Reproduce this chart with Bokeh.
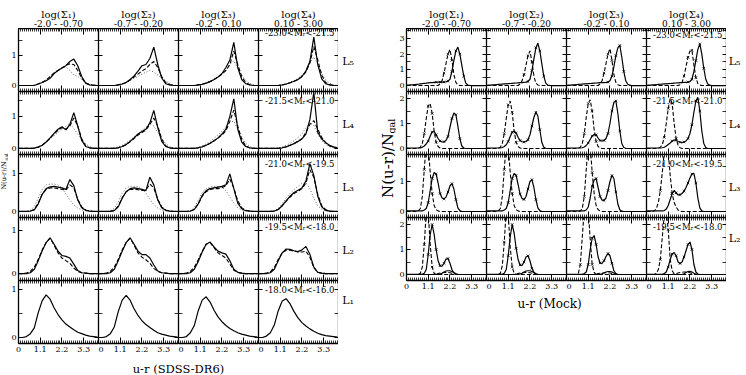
from math import pi

from bokeh.embed import file_html
from bokeh.layouts import column, gridplot, row
from bokeh.models import FixedTicker, Label, LinearAxis, Range1d
from bokeh.plotting import figure
from bokeh.resources import INLINE

FONT = "DejaVu Serif"
FRAME_W, FRAME_H = 80, 63

# u-r colour sampling positions
U_SDSS = [0.0, 0.2, 0.4, 0.6, 0.8, 1.0, 1.2, 1.4, 1.6, 1.8, 2.0,
          2.2, 2.4, 2.6, 2.8, 3.0, 3.2, 3.4, 3.6, 3.8, 4.0]
U_MOCK = [0.0, 0.1, 0.2, 0.3, 0.4, 0.5, 0.6, 0.7, 0.8, 0.9,
          1.0, 1.1, 1.2, 1.3, 1.4, 1.5, 1.6, 1.7, 1.8, 1.9,
          2.0, 2.1, 2.2, 2.3, 2.4, 2.5, 2.6, 2.7, 2.8, 2.9,
          3.0, 3.1, 3.2, 3.3, 3.4, 3.5, 3.6, 3.7, 3.8, 3.9, 4.0]

SIGMA_NAMES = ["log(Σ₁)", "log(Σ₂)", "log(Σ₃)", "log(Σ₄)"]
SIGMA_BINS = ["-2.0 - -0.70", "-0.7 - -0.20", "-0.2 - 0.10", "0.10 - 3.00"]
LUM_NAMES = ["L₅", "L₄", "L₃", "L₂", "L₁"]
MAG_BINS = ["-23.0<Mᵣ<-21.5", "-21.5<Mᵣ<-21.0", "-21.0<Mᵣ<-19.5",
            "-19.5<Mᵣ<-18.0", "-18.0<Mᵣ<-16.0"]
X_TICKS = [0, 1.1, 2.2, 3.3]
X_TICK_LABELS = ["0", "1.1", "2.2", "3.3"]

# ---- SDSS-DR6 distributions, one list per density bin (columns) ----
sdss_solid_L5 = [
    [0, 0, 0, 0, 0, 0.05, 0.1, 0.16, 0.24, 0.4, 0.5, 0.58, 0.66, 0.8, 0.88, 0.66, 0.3, 0.08, 0.02, 0.01, 0],
    [0, 0, 0, 0, 0, 0.02, 0.05, 0.1, 0.2, 0.32, 0.48, 0.66, 0.7, 0.9, 1.28, 0.7, 0.25, 0.06, 0.02, 0, 0],
    [0, 0, 0, 0, 0, 0.02, 0.04, 0.08, 0.13, 0.2, 0.28, 0.4, 0.6, 0.85, 1.44, 0.6, 0.2, 0.06, 0.02, 0, 0],
    [0, 0, 0, 0, 0, 0, 0.02, 0.05, 0.09, 0.14, 0.2, 0.3, 0.48, 0.8, 1.61, 0.7, 0.22, 0.06, 0.02, 0, 0],
]
sdss_dash_L5 = [
    [0, 0, 0, 0, 0, 0.05, 0.1, 0.18, 0.3, 0.42, 0.5, 0.58, 0.68, 0.72, 0.7, 0.5, 0.25, 0.08, 0.02, 0, 0],
    [0, 0, 0, 0, 0, 0.02, 0.05, 0.1, 0.18, 0.28, 0.38, 0.48, 0.56, 0.7, 0.8, 0.6, 0.3, 0.1, 0.03, 0, 0],
    [0, 0, 0, 0, 0, 0.02, 0.04, 0.08, 0.13, 0.2, 0.28, 0.38, 0.5, 0.7, 1.15, 0.7, 0.3, 0.1, 0.03, 0, 0],
    [0, 0, 0, 0, 0, 0, 0.02, 0.05, 0.09, 0.14, 0.2, 0.3, 0.45, 0.75, 1.3, 0.85, 0.35, 0.1, 0.03, 0, 0],
]
sdss_dot_L5 = [
    [0, 0, 0, 0, 0.02, 0.06, 0.12, 0.2, 0.3, 0.42, 0.52, 0.6, 0.62, 0.5, 0.35, 0.3, 0.2, 0.1, 0.04, 0.01, 0],
    [0, 0, 0, 0, 0, 0.03, 0.06, 0.1, 0.16, 0.24, 0.3, 0.38, 0.44, 0.5, 0.45, 0.35, 0.25, 0.15, 0.07, 0.02, 0],
    [0, 0, 0, 0, 0, 0.02, 0.04, 0.08, 0.13, 0.2, 0.28, 0.38, 0.5, 0.7, 0.83, 0.55, 0.35, 0.18, 0.07, 0.02, 0],
    [0, 0, 0, 0, 0, 0, 0.02, 0.05, 0.1, 0.16, 0.24, 0.34, 0.5, 0.75, 0.95, 0.7, 0.4, 0.2, 0.08, 0.02, 0],
]
sdss_solid_L4 = [
    [0, 0, 0, 0, 0.01, 0.04, 0.1, 0.2, 0.33, 0.47, 0.6, 0.68, 0.58, 0.75, 1.12, 0.7, 0.25, 0.06, 0.02, 0, 0],
    [0, 0, 0, 0, 0, 0.02, 0.06, 0.12, 0.22, 0.33, 0.45, 0.53, 0.6, 0.8, 1.19, 0.65, 0.22, 0.06, 0.02, 0, 0],
    [0, 0, 0, 0, 0, 0.02, 0.05, 0.1, 0.16, 0.24, 0.33, 0.45, 0.6, 1.0, 1.55, 0.6, 0.2, 0.06, 0.02, 0, 0],
    [0, 0, 0, 0, 0, 0, 0.02, 0.05, 0.1, 0.15, 0.22, 0.3, 0.45, 0.9, 1.75, 0.5, 0.3, 0.18, 0.1, 0.05, 0.02],
]
sdss_dash_L4 = [
    [0, 0, 0, 0, 0.01, 0.04, 0.1, 0.2, 0.32, 0.45, 0.57, 0.65, 0.6, 0.7, 0.95, 0.7, 0.3, 0.08, 0.02, 0, 0],
    [0, 0, 0, 0, 0, 0.02, 0.06, 0.12, 0.21, 0.31, 0.42, 0.5, 0.58, 0.75, 0.95, 0.7, 0.3, 0.08, 0.02, 0, 0],
    [0, 0, 0, 0, 0, 0.02, 0.05, 0.1, 0.16, 0.24, 0.32, 0.42, 0.55, 0.85, 1.2, 0.7, 0.28, 0.08, 0.02, 0, 0],
    [0, 0, 0, 0, 0, 0, 0.02, 0.05, 0.1, 0.15, 0.22, 0.3, 0.5, 0.75, 0.87, 0.6, 0.35, 0.18, 0.08, 0.03, 0],
]
sdss_dot_L4 = [
    [0, 0, 0, 0, 0.02, 0.05, 0.11, 0.2, 0.3, 0.4, 0.5, 0.6, 0.7, 0.78, 0.62, 0.45, 0.28, 0.14, 0.06, 0.02, 0],
    [0, 0, 0, 0, 0.02, 0.05, 0.1, 0.17, 0.26, 0.36, 0.46, 0.56, 0.66, 0.78, 0.7, 0.5, 0.3, 0.15, 0.06, 0.02, 0],
    [0, 0, 0, 0, 0.01, 0.04, 0.08, 0.14, 0.22, 0.32, 0.42, 0.54, 0.68, 0.82, 0.85, 0.6, 0.35, 0.16, 0.06, 0.02, 0],
    [0, 0, 0, 0, 0, 0.02, 0.05, 0.1, 0.16, 0.24, 0.34, 0.45, 0.65, 0.8, 0.72, 0.45, 0.25, 0.12, 0.05, 0.02, 0],
]
sdss_solid_L3 = [
    [0, 0, 0, 0.01, 0.04, 0.2, 0.45, 0.6, 0.65, 0.66, 0.64, 0.62, 0.58, 0.84, 0.68, 0.3, 0.1, 0.03, 0.01, 0, 0],
    [0, 0, 0, 0, 0.02, 0.12, 0.35, 0.52, 0.6, 0.62, 0.6, 0.58, 0.55, 0.9, 0.7, 0.3, 0.1, 0.03, 0.01, 0, 0],
    [0, 0, 0, 0.01, 0.05, 0.2, 0.42, 0.55, 0.6, 0.62, 0.64, 0.66, 0.7, 0.99, 0.6, 0.22, 0.07, 0.02, 0.01, 0, 0],
    [0, 0, 0, 0, 0.01, 0.05, 0.15, 0.28, 0.4, 0.5, 0.56, 0.62, 0.8, 1.26, 0.95, 0.4, 0.12, 0.03, 0.01, 0, 0],
]
sdss_dash_L3 = [
    [0, 0, 0, 0.01, 0.05, 0.22, 0.45, 0.58, 0.62, 0.62, 0.6, 0.58, 0.56, 0.7, 0.62, 0.32, 0.12, 0.04, 0.01, 0, 0],
    [0, 0, 0, 0, 0.03, 0.14, 0.36, 0.52, 0.58, 0.58, 0.57, 0.55, 0.56, 0.72, 0.62, 0.32, 0.12, 0.04, 0.01, 0, 0],
    [0, 0, 0, 0.01, 0.05, 0.2, 0.4, 0.52, 0.58, 0.6, 0.6, 0.62, 0.68, 0.85, 0.62, 0.28, 0.1, 0.03, 0.01, 0, 0],
    [0, 0, 0, 0, 0.01, 0.05, 0.15, 0.27, 0.38, 0.47, 0.53, 0.6, 0.75, 1.1, 0.9, 0.45, 0.15, 0.05, 0.01, 0, 0],
]
sdss_dot_L3 = [
    [0, 0, 0, 0.03, 0.12, 0.35, 0.58, 0.7, 0.72, 0.72, 0.7, 0.62, 0.46, 0.3, 0.17, 0.09, 0.04, 0.02, 0.01, 0, 0],
    [0, 0, 0, 0.02, 0.08, 0.25, 0.48, 0.62, 0.66, 0.66, 0.65, 0.6, 0.48, 0.32, 0.18, 0.09, 0.04, 0.02, 0.01, 0, 0],
    [0, 0, 0, 0.02, 0.1, 0.3, 0.5, 0.6, 0.64, 0.66, 0.66, 0.64, 0.55, 0.38, 0.22, 0.1, 0.04, 0.02, 0, 0, 0],
    [0, 0, 0, 0, 0.02, 0.08, 0.2, 0.35, 0.48, 0.58, 0.66, 0.74, 0.76, 0.6, 0.35, 0.15, 0.06, 0.02, 0.01, 0, 0],
]
sdss_solid_L2 = [
    [0, 0, 0, 0.02, 0.1, 0.3, 0.53, 0.72, 0.83, 0.68, 0.52, 0.42, 0.4, 0.36, 0.22, 0.07, 0.02, 0.01, 0, 0, 0],
    [0, 0, 0, 0.02, 0.1, 0.3, 0.52, 0.72, 0.83, 0.68, 0.52, 0.44, 0.44, 0.36, 0.2, 0.06, 0.02, 0.01, 0, 0, 0],
    [0, 0, 0, 0.02, 0.1, 0.28, 0.5, 0.68, 0.73, 0.62, 0.52, 0.48, 0.45, 0.3, 0.1, 0.03, 0.01, 0, 0, 0, 0],
    [0, 0, 0, 0.02, 0.1, 0.3, 0.48, 0.57, 0.56, 0.53, 0.51, 0.55, 0.63, 0.45, 0.15, 0.03, 0.01, 0, 0, 0, 0],
]
sdss_dash_L2 = [
    [0, 0, 0.01, 0.05, 0.15, 0.33, 0.55, 0.72, 0.82, 0.66, 0.48, 0.36, 0.3, 0.24, 0.13, 0.05, 0.02, 0.01, 0, 0, 0],
    [0, 0, 0.01, 0.05, 0.15, 0.33, 0.55, 0.72, 0.82, 0.66, 0.48, 0.38, 0.32, 0.24, 0.12, 0.05, 0.02, 0.01, 0, 0, 0],
    [0, 0, 0.01, 0.05, 0.15, 0.32, 0.52, 0.68, 0.72, 0.6, 0.48, 0.42, 0.36, 0.22, 0.08, 0.03, 0.01, 0, 0, 0, 0],
    [0, 0, 0.01, 0.04, 0.14, 0.33, 0.48, 0.54, 0.54, 0.52, 0.5, 0.5, 0.52, 0.38, 0.14, 0.03, 0.01, 0, 0, 0, 0],
]
sdss_solid_L1 = [
    [0, 0, 0.02, 0.08, 0.2, 0.52, 0.77, 0.89, 0.8, 0.62, 0.48, 0.37, 0.28, 0.22, 0.16, 0.11, 0.08, 0.05, 0.03, 0.02, 0.01],
    [0, 0, 0.02, 0.08, 0.22, 0.54, 0.78, 0.88, 0.78, 0.6, 0.46, 0.35, 0.27, 0.21, 0.15, 0.1, 0.07, 0.05, 0.03, 0.02, 0.01],
    [0, 0, 0.02, 0.1, 0.25, 0.56, 0.78, 0.85, 0.74, 0.57, 0.43, 0.33, 0.25, 0.19, 0.14, 0.1, 0.07, 0.05, 0.03, 0.02, 0.01],
    [0, 0, 0.03, 0.1, 0.26, 0.56, 0.76, 0.81, 0.7, 0.54, 0.41, 0.31, 0.24, 0.18, 0.13, 0.09, 0.06, 0.04, 0.03, 0.02, 0.01],
]

# ---- mock catalogue distributions ----
mock_solid_L5 = [
    [0.02, 0.03, 0.04, 0.05, 0.06, 0.07, 0.08, 0.1, 0.12, 0.14,
     0.15, 0.17, 0.18, 0.19, 0.2, 0.21, 0.22, 0.22, 0.22, 0.22,
     0.24, 0.28, 0.4, 0.9, 1.6, 2.2, 2.45, 2.0, 1.3, 0.6,
     0.15, 0.03, 0.01, 0, 0, 0, 0, 0, 0, 0, 0],
    [0.01, 0.02, 0.03, 0.04, 0.05, 0.06, 0.07, 0.08, 0.09, 0.1,
     0.11, 0.12, 0.13, 0.14, 0.15, 0.16, 0.17, 0.18, 0.18, 0.2,
     0.22, 0.26, 0.4, 0.95, 1.7, 2.4, 2.7, 2.2, 1.4, 0.6,
     0.15, 0.03, 0.01, 0, 0, 0, 0, 0, 0, 0, 0],
    [0.01, 0.02, 0.03, 0.04, 0.05, 0.06, 0.07, 0.08, 0.09, 0.1,
     0.11, 0.12, 0.13, 0.14, 0.15, 0.16, 0.17, 0.18, 0.18, 0.19,
     0.2, 0.22, 0.3, 0.6, 1.2, 1.9, 2.4, 2.55, 1.8, 0.9,
     0.3, 0.08, 0.02, 0, 0, 0, 0, 0, 0, 0, 0],
    [0.01, 0.02, 0.03, 0.04, 0.05, 0.06, 0.07, 0.08, 0.09, 0.1,
     0.11, 0.12, 0.13, 0.14, 0.15, 0.16, 0.17, 0.18, 0.19, 0.2,
     0.2, 0.22, 0.25, 0.4, 0.9, 1.6, 2.3, 2.65, 2.0, 1.1,
     0.4, 0.1, 0.02, 0, 0, 0, 0, 0, 0, 0, 0],
]
mock_dash_L5 = [
    [0, 0, 0, 0, 0, 0, 0, 0, 0, 0,
     0, 0, 0, 0, 0, 0, 0, 0.1, 0.3, 0.8,
     1.4, 2.0, 2.3, 1.6, 0.7, 0.2, 0.05, 0, 0, 0,
     0, 0, 0, 0, 0, 0, 0, 0, 0, 0, 0],
    [0, 0, 0, 0, 0, 0, 0, 0, 0, 0,
     0, 0, 0, 0, 0, 0, 0, 0.1, 0.3, 0.7,
     1.3, 1.9, 2.2, 1.5, 0.6, 0.15, 0.04, 0, 0, 0,
     0, 0, 0, 0, 0, 0, 0, 0, 0, 0, 0],
    [0, 0, 0, 0, 0, 0, 0, 0, 0, 0,
     0, 0, 0, 0, 0, 0, 0, 0.1, 0.3, 0.8,
     1.4, 2.0, 2.35, 1.6, 0.7, 0.2, 0.05, 0, 0, 0,
     0, 0, 0, 0, 0, 0, 0, 0, 0, 0, 0],
    [0, 0, 0, 0, 0, 0, 0, 0, 0, 0,
     0, 0, 0, 0, 0, 0, 0, 0.05, 0.2, 0.6,
     1.2, 1.8, 2.2, 2.25, 1.3, 0.5, 0.12, 0.03, 0, 0,
     0, 0, 0, 0, 0, 0, 0, 0, 0, 0, 0],
]
mock_solid_L4 = [
    [0.02, 0.02, 0.02, 0.02, 0.02, 0.02, 0.02, 0.02, 0.05, 0.1,
     0.18, 0.3, 0.5, 0.66, 0.68, 0.55, 0.4, 0.3, 0.26, 0.27,
     0.32, 0.48, 0.85, 1.2, 1.42, 1.35, 0.9, 0.4, 0.1, 0.02,
     0, 0, 0, 0, 0, 0, 0, 0, 0, 0, 0],
    [0.02, 0.02, 0.02, 0.02, 0.02, 0.02, 0.02, 0.02, 0.04, 0.08,
     0.15, 0.28, 0.48, 0.65, 0.7, 0.62, 0.45, 0.32, 0.27, 0.26,
     0.28, 0.35, 0.55, 0.9, 1.25, 1.45, 1.3, 0.75, 0.25, 0.05,
     0.01, 0, 0, 0, 0, 0, 0, 0, 0, 0, 0],
    [0.02, 0.02, 0.02, 0.02, 0.02, 0.02, 0.02, 0.02, 0.03, 0.06,
     0.12, 0.22, 0.36, 0.5, 0.56, 0.55, 0.42, 0.32, 0.3, 0.32,
     0.4, 0.6, 1.0, 1.5, 1.85, 1.9, 1.4, 0.7, 0.2, 0.04,
     0.01, 0, 0, 0, 0, 0, 0, 0, 0, 0, 0],
    [0.02, 0.02, 0.02, 0.02, 0.02, 0.02, 0.02, 0.02, 0.03, 0.05,
     0.1, 0.16, 0.22, 0.3, 0.34, 0.33, 0.28, 0.25, 0.24, 0.26,
     0.3, 0.4, 0.6, 0.95, 1.45, 1.9, 2.05, 1.5, 0.7, 0.2,
     0.04, 0, 0, 0, 0, 0, 0, 0, 0, 0, 0],
]
mock_dash_L4 = [
    [0, 0, 0, 0, 0, 0, 0.02, 0.05, 0.2, 0.6,
     1.2, 1.7, 1.8, 1.4, 0.7, 0.25, 0.08, 0.02, 0, 0,
     0, 0, 0, 0, 0, 0, 0, 0, 0, 0,
     0, 0, 0, 0, 0, 0, 0, 0, 0, 0, 0],
    [0, 0, 0, 0, 0, 0, 0.02, 0.05, 0.2, 0.6,
     1.2, 1.75, 1.9, 1.45, 0.7, 0.25, 0.08, 0.02, 0, 0,
     0, 0, 0, 0, 0, 0, 0, 0, 0, 0,
     0, 0, 0, 0, 0, 0, 0, 0, 0, 0, 0],
    [0, 0, 0, 0, 0, 0, 0.02, 0.05, 0.2, 0.6,
     1.25, 1.8, 1.95, 1.5, 0.75, 0.28, 0.08, 0.02, 0, 0,
     0, 0, 0, 0, 0, 0, 0, 0, 0, 0,
     0, 0, 0, 0, 0, 0, 0, 0, 0, 0, 0],
    [0, 0, 0, 0, 0, 0, 0.02, 0.05, 0.15, 0.45,
     1.0, 1.6, 2.0, 1.8, 1.0, 0.4, 0.12, 0.03, 0, 0,
     0, 0, 0, 0, 0, 0, 0, 0, 0, 0,
     0, 0, 0, 0, 0, 0, 0, 0, 0, 0, 0],
]
mock_solid_L3 = [
    [0.02, 0.02, 0.02, 0.02, 0.02, 0.02, 0.02, 0.02, 0.02, 0.05,
     0.1, 0.3, 0.7, 1.1, 1.3, 1.25, 0.95, 0.6, 0.45, 0.42,
     0.48, 0.65, 0.85, 0.93, 0.75, 0.4, 0.12, 0.03, 0, 0,
     0, 0, 0, 0, 0, 0, 0, 0, 0, 0, 0],
    [0.02, 0.02, 0.02, 0.02, 0.02, 0.02, 0.02, 0.02, 0.02, 0.05,
     0.1, 0.3, 0.7, 1.1, 1.27, 1.2, 0.9, 0.58, 0.43, 0.4,
     0.5, 0.75, 1.0, 1.06, 0.8, 0.4, 0.12, 0.03, 0, 0,
     0, 0, 0, 0, 0, 0, 0, 0, 0, 0, 0],
    [0.02, 0.02, 0.02, 0.02, 0.02, 0.02, 0.02, 0.02, 0.02, 0.02,
     0.05, 0.15, 0.45, 0.85, 1.05, 1.1, 0.8, 0.5, 0.38, 0.37,
     0.45, 0.7, 1.0, 1.2, 1.1, 0.65, 0.25, 0.06, 0.01, 0,
     0, 0, 0, 0, 0, 0, 0, 0, 0, 0, 0],
    [0.02, 0.02, 0.02, 0.02, 0.02, 0.02, 0.02, 0.02, 0.02, 0.03,
     0.08, 0.2, 0.4, 0.6, 0.7, 0.62, 0.55, 0.56, 0.6, 0.68,
     0.8, 0.95, 1.12, 1.25, 1.27, 0.95, 0.45, 0.12, 0.02, 0,
     0, 0, 0, 0, 0, 0, 0, 0, 0, 0, 0],
]
mock_dash_L3 = [
    [0, 0, 0, 0, 0, 0, 0.02, 0.1, 0.5, 1.4,
     2.3, 2.2, 1.3, 0.6, 0.2, 0.06, 0.02, 0, 0, 0,
     0, 0, 0, 0, 0, 0, 0, 0, 0, 0,
     0, 0, 0, 0, 0, 0, 0, 0, 0, 0, 0],
    [0, 0, 0, 0, 0, 0, 0.02, 0.1, 0.5, 1.4,
     2.3, 2.2, 1.3, 0.6, 0.2, 0.06, 0.02, 0, 0, 0,
     0, 0, 0, 0, 0, 0, 0, 0, 0, 0,
     0, 0, 0, 0, 0, 0, 0, 0, 0, 0, 0],
    [0, 0, 0, 0, 0, 0, 0, 0.02, 0.1, 0.5,
     1.4, 2.3, 2.2, 1.3, 0.6, 0.2, 0.06, 0.02, 0, 0,
     0, 0, 0, 0, 0, 0, 0, 0, 0, 0,
     0, 0, 0, 0, 0, 0, 0, 0, 0, 0, 0],
    [0, 0, 0, 0, 0.02, 0.1, 0.3, 0.7, 1.3, 2.0,
     2.4, 2.0, 1.2, 0.6, 0.3, 0.15, 0.05, 0.01, 0, 0,
     0, 0, 0, 0, 0, 0, 0, 0, 0, 0,
     0, 0, 0, 0, 0, 0, 0, 0, 0, 0, 0],
]
mock_solid_L2 = [
    [0.01, 0.01, 0.01, 0.01, 0.01, 0.01, 0.01, 0.01, 0.02, 0.05,
     0.2, 0.8, 1.6, 2.0, 1.6, 1.0, 0.55, 0.35, 0.33, 0.45,
     0.62, 0.64, 0.45, 0.2, 0.06, 0.02, 0, 0, 0, 0,
     0, 0, 0, 0, 0, 0, 0, 0, 0, 0, 0],
    [0.01, 0.01, 0.01, 0.01, 0.01, 0.01, 0.01, 0.01, 0.02, 0.05,
     0.2, 0.75, 1.5, 2.0, 1.65, 1.05, 0.6, 0.38, 0.36, 0.5,
     0.7, 0.75, 0.55, 0.25, 0.08, 0.02, 0, 0, 0, 0,
     0, 0, 0, 0, 0, 0, 0, 0, 0, 0, 0],
    [0.01, 0.01, 0.01, 0.01, 0.01, 0.01, 0.01, 0.01, 0.01, 0.04,
     0.1, 0.4, 1.0, 1.45, 1.56, 1.2, 0.7, 0.46, 0.44, 0.55,
     0.72, 0.84, 0.75, 0.45, 0.15, 0.04, 0, 0, 0, 0,
     0, 0, 0, 0, 0, 0, 0, 0, 0, 0, 0],
    [0.01, 0.01, 0.01, 0.01, 0.01, 0.01, 0.01, 0.01, 0.01, 0.04,
     0.1, 0.3, 0.6, 0.82, 0.88, 0.75, 0.5, 0.44, 0.5, 0.7,
     0.95, 1.2, 1.3, 1.0, 0.4, 0.1, 0.02, 0, 0, 0,
     0, 0, 0, 0, 0, 0, 0, 0, 0, 0, 0],
]
mock_dash_L2 = [
    [0, 0, 0, 0, 0, 0, 0, 0.05, 0.3, 1.2,
     2.5, 2.5, 1.2, 0.3, 0.05, 0, 0, 0, 0, 0,
     0, 0, 0, 0, 0, 0, 0, 0, 0, 0,
     0, 0, 0, 0, 0, 0, 0, 0, 0, 0, 0],
    [0, 0, 0, 0, 0, 0, 0, 0.05, 0.35, 1.3,
     2.6, 2.4, 1.1, 0.3, 0.05, 0, 0, 0, 0, 0,
     0, 0, 0, 0, 0, 0, 0, 0, 0, 0,
     0, 0, 0, 0, 0, 0, 0, 0, 0, 0, 0],
    [0, 0, 0, 0, 0, 0, 0.05, 0.4, 1.5, 2.6,
     2.8, 2.6, 1.4, 0.4, 0.08, 0, 0, 0, 0, 0,
     0, 0, 0, 0, 0, 0, 0, 0, 0, 0,
     0, 0, 0, 0, 0, 0, 0, 0, 0, 0, 0],
    [0, 0, 0, 0, 0, 0.05, 0.2, 0.6, 1.5, 2.4,
     2.5, 1.8, 0.6, 0.15, 0.03, 0, 0, 0, 0, 0,
     0, 0, 0, 0, 0, 0, 0, 0, 0, 0,
     0, 0, 0, 0, 0, 0, 0, 0, 0, 0, 0],
]
mock_low_solid_L2 = [
    [0, 0, 0, 0, 0, 0, 0, 0, 0, 0,
     0, 0, 0, 0, 0, 0, 0, 0.02, 0.05, 0.1,
     0.14, 0.15, 0.15, 0.12, 0.08, 0.03, 0.01, 0, 0, 0,
     0, 0, 0, 0, 0, 0, 0, 0, 0, 0, 0],
    [0, 0, 0, 0, 0, 0, 0, 0, 0, 0,
     0, 0, 0, 0, 0, 0, 0, 0.02, 0.05, 0.1,
     0.14, 0.15, 0.15, 0.12, 0.08, 0.03, 0.01, 0, 0, 0,
     0, 0, 0, 0, 0, 0, 0, 0, 0, 0, 0],
    [0, 0, 0, 0, 0, 0, 0, 0, 0, 0,
     0, 0, 0, 0, 0, 0, 0, 0, 0.03, 0.06,
     0.1, 0.12, 0.12, 0.1, 0.06, 0.02, 0, 0, 0, 0,
     0, 0, 0, 0, 0, 0, 0, 0, 0, 0, 0],
    [0, 0, 0, 0, 0, 0, 0, 0, 0, 0,
     0, 0, 0, 0, 0, 0, 0, 0, 0, 0.03,
     0.08, 0.12, 0.13, 0.1, 0.05, 0.02, 0, 0, 0, 0,
     0, 0, 0, 0, 0, 0, 0, 0, 0, 0, 0],
]
mock_low_dash_L2 = [
    [0, 0, 0, 0, 0, 0, 0, 0, 0, 0,
     0, 0, 0, 0, 0.01, 0.02, 0.04, 0.06, 0.07, 0.08,
     0.08, 0.08, 0.07, 0.05, 0.03, 0.01, 0, 0, 0, 0,
     0, 0, 0, 0, 0, 0, 0, 0, 0, 0, 0],
    [0, 0, 0, 0, 0, 0, 0, 0, 0, 0,
     0, 0, 0, 0, 0.01, 0.02, 0.04, 0.06, 0.07, 0.08,
     0.08, 0.08, 0.07, 0.05, 0.03, 0.01, 0, 0, 0, 0,
     0, 0, 0, 0, 0, 0, 0, 0, 0, 0, 0],
    [0, 0, 0, 0, 0, 0, 0, 0, 0, 0,
     0, 0, 0, 0, 0, 0.02, 0.04, 0.05, 0.06, 0.07,
     0.07, 0.07, 0.06, 0.04, 0.02, 0, 0, 0, 0, 0,
     0, 0, 0, 0, 0, 0, 0, 0, 0, 0, 0],
    [0, 0, 0, 0, 0, 0, 0, 0, 0, 0,
     0, 0, 0, 0, 0.02, 0.04, 0.06, 0.08, 0.09, 0.1,
     0.1, 0.09, 0.07, 0.04, 0.02, 0, 0, 0, 0, 0,
     0, 0, 0, 0, 0, 0, 0, 0, 0, 0, 0],
]

# (solid, dashed, dotted) per luminosity row
SDSS_ROWS = [
    (sdss_solid_L5, sdss_dash_L5, sdss_dot_L5),
    (sdss_solid_L4, sdss_dash_L4, sdss_dot_L4),
    (sdss_solid_L3, sdss_dash_L3, sdss_dot_L3),
    (sdss_solid_L2, sdss_dash_L2, None),
    (sdss_solid_L1, None, None),
]
SDSS_YLIM = [(-0.2, 1.9), (-0.19, 1.78), (-0.16, 1.5), (-0.16, 1.3), (-0.125, 1.19)]

# (solid, dashed, faint solid, faint dashed) per luminosity row
MOCK_ROWS = [
    (mock_solid_L5, mock_dash_L5, None, None),
    (mock_solid_L4, mock_dash_L4, None, None),
    (mock_solid_L3, mock_dash_L3, None, None),
    (mock_solid_L2, mock_dash_L2, mock_low_solid_L2, mock_low_dash_L2),
]
MOCK_YLIM = [(-0.38, 3.63), (-0.24, 2.28), (-0.2, 1.9), (-0.24, 2.28)]

SOLID = dict(line_color="black", line_width=1.2)
DASHED = dict(line_color="black", line_width=1.1, line_dash="4 2")
DOTTED = dict(line_color="#666666", line_width=1.0, line_dash="1 2")
ERRMARK = dict(marker="x", size=3.5, line_color="black", line_width=0.8)

X_FINE = [round(0.1 * k, 1) for k in range(41)]


def tick_axis(majors, minors, major_len, minor_len, labels, overrides=None, standoff=3):
    """Frame side with inward ticks; inner sides keep zero-size tick labels."""
    ax = LinearAxis(ticker=FixedTicker(ticks=majors, minor_ticks=minors),
                    axis_line_color="black", axis_line_width=1.3,
                    major_tick_in=major_len, major_tick_out=0,
                    minor_tick_in=minor_len, minor_tick_out=0,
                    major_tick_line_color="black", minor_tick_line_color="black",
                    major_tick_line_width=1, minor_tick_line_width=0.8)
    if labels:
        ax.major_label_text_font = FONT
        ax.major_label_text_font_size = "8px"
        ax.major_label_text_color = "black"
        ax.major_label_standoff = standoff
        if overrides:
            ax.major_label_overrides = overrides
    else:
        ax.major_label_text_font_size = "0px"
        ax.major_label_standoff = 0
    return ax


def panel(ylim, left, bottom, left_labels, bottom_labels):
    p = figure(frame_width=FRAME_W, frame_height=FRAME_H,
               x_range=Range1d(0, 4.05), y_range=Range1d(*ylim),
               x_axis_location=None, y_axis_location=None,
               toolbar_location=None, output_backend="svg",
               min_border_left=left, min_border_right=0,
               min_border_top=0, min_border_bottom=bottom,
               outline_line_color=None, background_fill_color="white",
               border_fill_color="white")
    p.xgrid.visible = False
    p.ygrid.visible = False
    y_major = [k for k in range(0, 4) if k <= ylim[1]]
    y_half = [k + 0.5 for k in y_major]
    p.add_layout(tick_axis(X_TICKS, X_FINE, 6, 3, bottom_labels,
                           dict(zip(X_TICKS, X_TICK_LABELS)), 3), "below")
    p.add_layout(tick_axis(X_TICKS, X_FINE, 6, 3, False), "above")
    p.add_layout(tick_axis(y_major, y_half, 4, 4, left_labels, None, 2), "left")
    p.add_layout(tick_axis(y_major, y_half, 4, 4, False), "right")
    return p


def text(p, x, y, s, size, align="center", baseline="middle", angle=0.0):
    p.add_layout(Label(x=x, y=y, x_units="screen", y_units="screen", text=s,
                       text_font=FONT, text_font_size=size, text_color="black",
                       text_align=align, text_baseline=baseline, angle=angle))


def strip(w, h):
    p = figure(width=w, height=h, x_range=Range1d(0, 1), y_range=Range1d(0, 1),
               x_axis_location=None, y_axis_location=None,
               toolbar_location=None, output_backend="svg", min_border=0,
               outline_line_color=None, border_fill_color="white",
               background_fill_color="white")
    p.grid.visible = False
    return p


def error_marks(p, u, ys):
    xs = [u[i] for i in range(1, len(u), 2) if ys[i] > 0.2]
    vs = [ys[i] for i in range(1, len(u), 2) if ys[i] > 0.2]
    p.scatter(xs, vs, **ERRMARK)


def build_grid(rows, ylims, u, left_b, bottom_b, lum_w, lum_x, first_mag_drop, mock):
    grid = []
    n = len(rows)
    for r, curves in enumerate(rows):
        cells = []
        last = r == n - 1
        for c in range(4):
            p = panel(ylims[r], left_b if c == 0 else 0, bottom_b if last else 0,
                      c == 0, last)
            solid, dashed = curves[0], curves[1]
            if mock:
                low_solid, low_dash = curves[2], curves[3]
                if low_dash is not None:
                    p.line(u, low_dash[c], **DASHED)
                if low_solid is not None:
                    p.line(u, low_solid[c], **SOLID)
            else:
                dotted = curves[2]
                if dotted is not None:
                    p.line(u, dotted[c], **DOTTED)
            if dashed is not None:
                p.line(u, dashed[c], **DASHED)
            p.line(u, solid[c], **SOLID)
            if mock:
                error_marks(p, u, solid[c])
                error_marks(p, u, dashed[c])
            if c == 3:
                drop = first_mag_drop if r == 0 else 9.5
                text(p, FRAME_W - 4, FRAME_H - drop, MAG_BINS[r], "8.5px", align="right")
            cells.append(p)
        # luminosity-bin name to the right of the row
        h = FRAME_H + (bottom_b if last else 0)
        lum = strip(lum_w, h)
        text(lum, lum_x, h - FRAME_H / 2 - 1, LUM_NAMES[r], "11px")
        cells.append(lum)
        grid.append(cells)
    return gridplot(grid, toolbar_location=None)


def header_strip(width, left_b):
    s = strip(width, 28)
    for c in range(4):
        cx = left_b + FRAME_W * c + FRAME_W / 2
        text(s, cx, 14, SIGMA_NAMES[c], "10px")
        text(s, cx, 4.5, SIGMA_BINS[c], "9px")
    return s


# left block: SDSS-DR6
left_grid = build_grid(SDSS_ROWS, SDSS_YLIM, U_SDSS, 10, 13, 22, 9.5, 4.5, False)
xtitle_left = strip(352, 19)
text(xtitle_left, 170, 7, "u-r (SDSS-DR6)", "11.5px")
left_block = column(header_strip(352, 10), left_grid, xtitle_left)

# right block: mock catalogue
right_grid = build_grid(MOCK_ROWS, MOCK_YLIM, U_MOCK, 10, 12, 20, 8, 6.5, True)
xtitle_right = strip(350, 22)
text(xtitle_right, 153, 11, "u-r (Mock)", "12px")
right_block = column(header_strip(350, 10), right_grid, xtitle_right)

# frequency axis titles (rotated, reading upwards)
ytitle_left = strip(8, 375)
text(ytitle_left, 3.8, 200, "N(u-r)/N", "6.5px", angle=pi / 2)
text(ytitle_left, 5.5, 215, "gal", "4.5px", align="left", angle=pi / 2)

ytitle_right = strip(36, 375)
text(ytitle_right, 27, 210, "N(u-r)/N", "15px", angle=pi / 2)
text(ytitle_right, 30.5, 242, "gal", "9.5px", align="left", angle=pi / 2)

page = row(ytitle_left, left_block, ytitle_right, right_block)

with open("out.html", "w") as fh:
    fh.write(file_html(page, INLINE, "u-r colour distributions"))
